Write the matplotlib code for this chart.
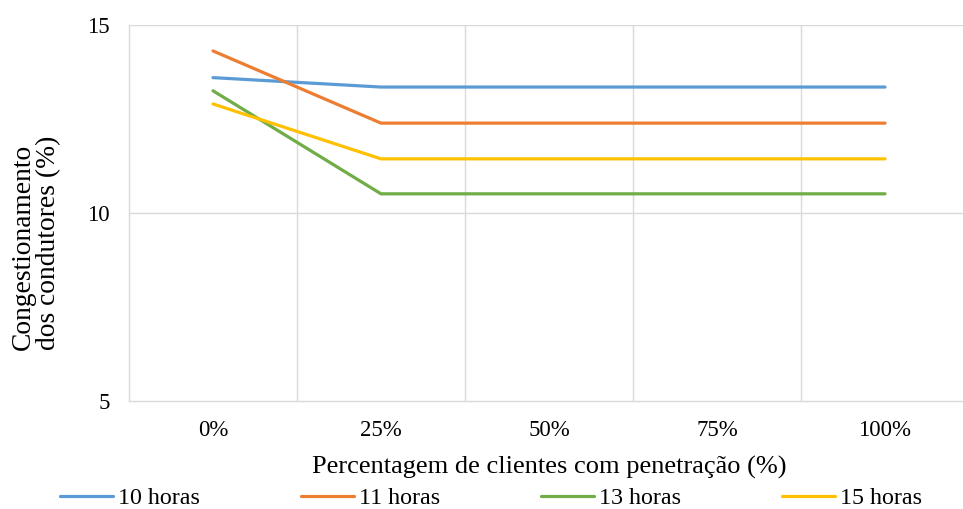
import matplotlib
matplotlib.use("Agg")
import matplotlib.pyplot as plt

categories = ["0%", "25%", "50%", "75%", "100%"]
series_names = ["10 horas", "11 horas", "13 horas", "15 horas"]
h10 = [13.6, 13.35, 13.35, 13.35, 13.35]
h11 = [14.31, 12.39, 12.39, 12.39, 12.39]
h13 = [13.25, 10.51, 10.51, 10.51, 10.51]
h15 = [12.9, 11.44, 11.44, 11.44, 11.44]
colors = ["#5B9BD5", "#ED7D31", "#70AD47", "#FFC000"]
yticks = [5, 10, 15]

plt.rcParams["font.family"] = ["Liberation Serif", "DejaVu Serif"]
W, H = 963, 509
fig = plt.figure(figsize=(W / 100, H / 100), dpi=100)
left, right, top, bottom = 129, 969, 25, 401
ax = fig.add_axes([left / W, (H - bottom) / H, (right - left) / W, (bottom - top) / H])

x = list(range(len(categories)))
for vals, name, c in zip([h10, h11, h13, h15], series_names, colors):
    ax.plot(x, vals, color=c, lw=2.3, label=name, solid_capstyle="round")

ax.set_xlim(-0.5, len(categories) - 0.5)
ax.set_ylim(5, 15)
ax.set_yticks(yticks)
ax.set_xticks(x)
ax.set_xticklabels(categories)
grid_c = "#D9D9D9"
for b in [0.5, 1.5, 2.5, 3.5]:
    ax.axvline(b, color=grid_c, lw=1.0, zorder=0)
for yv in [10, 15]:
    ax.axhline(yv, color=grid_c, lw=1.0, zorder=0)
for s in ["top", "right"]:
    ax.spines[s].set_visible(False)
ax.spines["left"].set_color(grid_c)
ax.spines["bottom"].set_color(grid_c)
ax.spines["left"].set_linewidth(1.0)
ax.spines["bottom"].set_linewidth(1.0)
ax.tick_params(axis="both", length=0, labelsize=16.5, colors="black")
ax.tick_params(axis="x", pad=13.5)
ax.tick_params(axis="y", pad=14)
ax.set_xlabel("Percentagem de clientes com penetração (%)", fontsize=19, labelpad=11)

# two-line y title, lines starting from the same baseline point
fig.text(36 / W, 1 - 243 / H, "Congestionamento\ndos condutores (%)", rotation=90,
         fontsize=19.8, ha="center", va="center", multialignment="left",
         linespacing=1.05)

fig.legend(loc="center left", bbox_to_anchor=(60 / W, 1 - 498 / H), ncol=4, frameon=False,
           fontsize=17.3, handlelength=2.2, handletextpad=0.2, columnspacing=4.22,
           borderaxespad=0.0, borderpad=0.0)
fig.savefig("out.png", dpi=100)
